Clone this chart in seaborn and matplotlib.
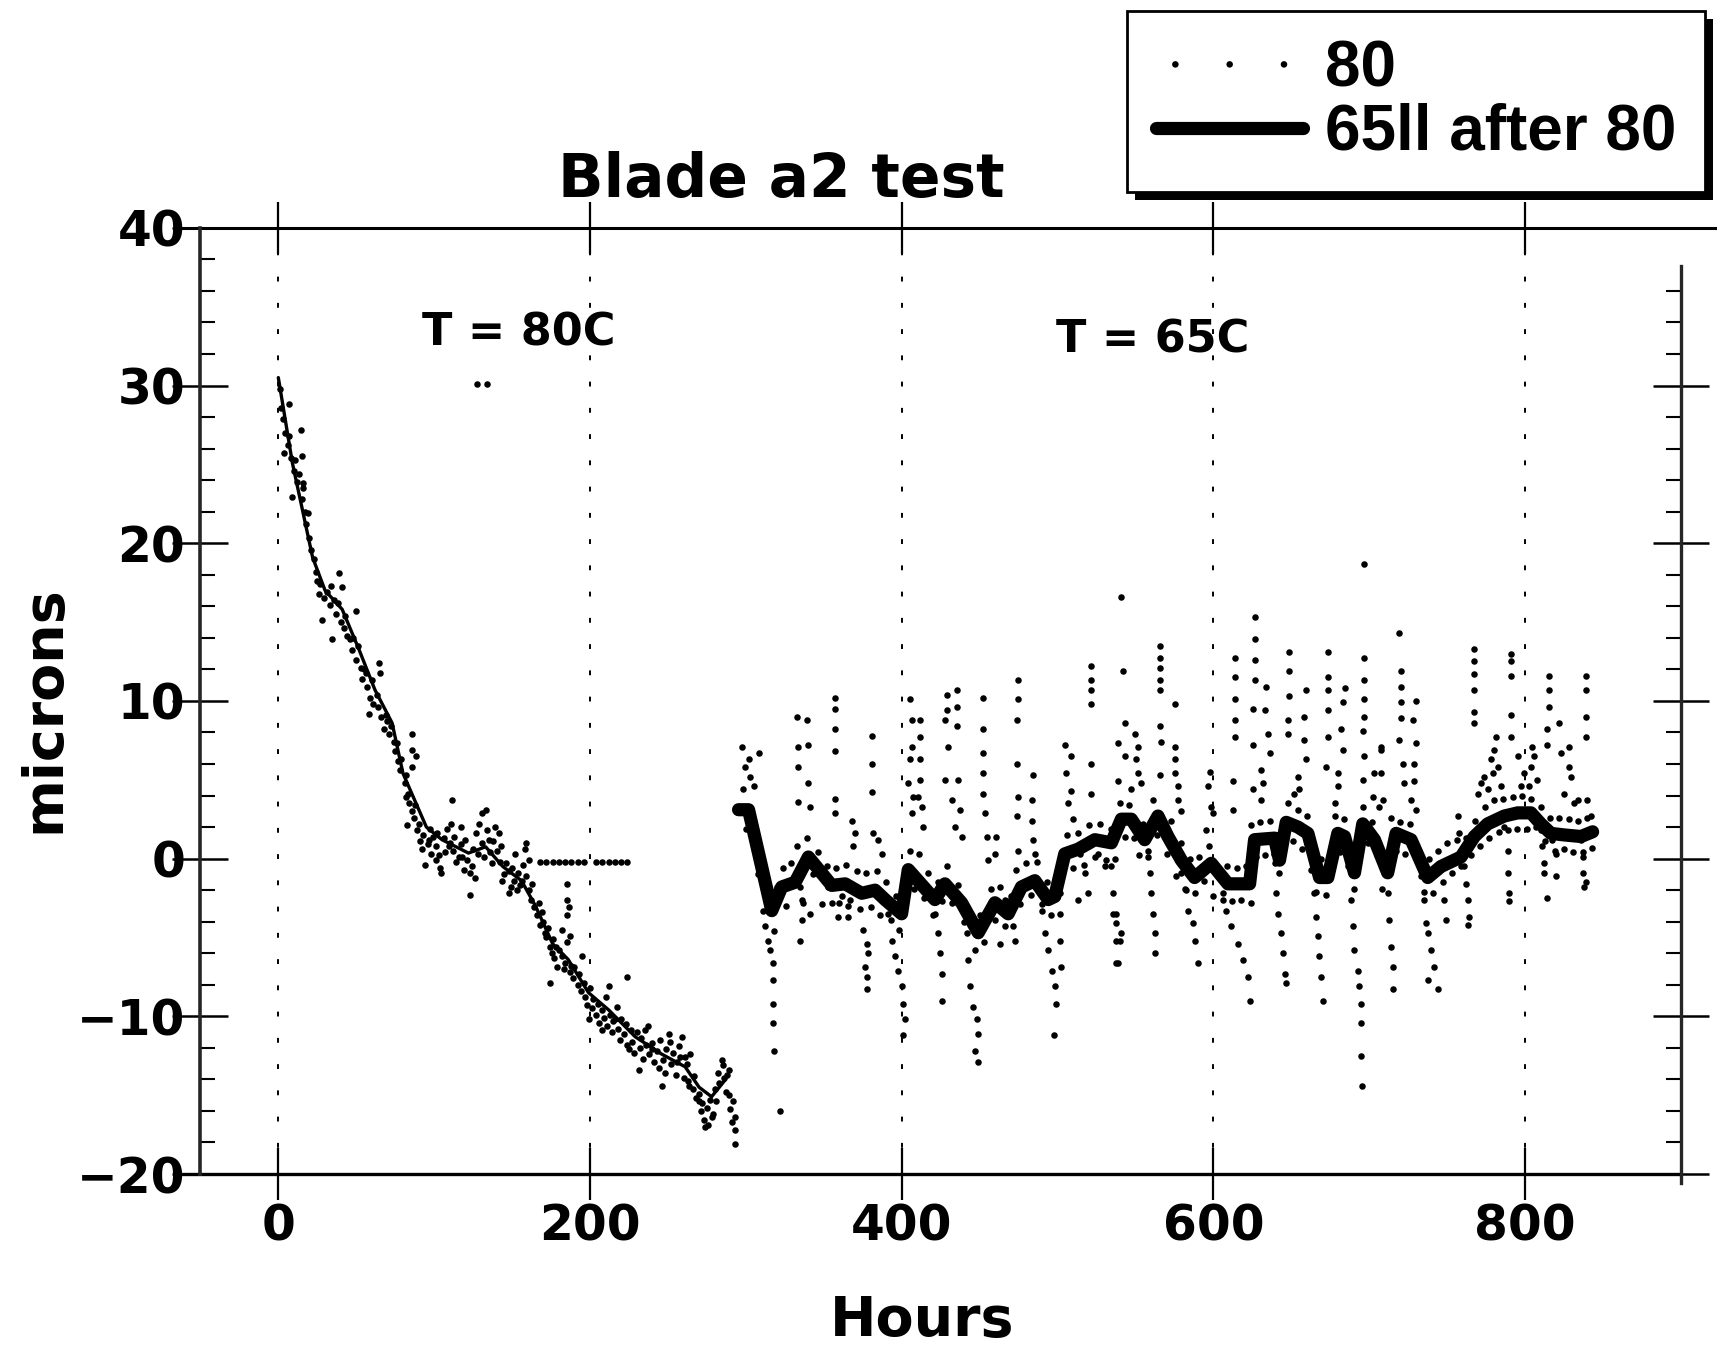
import numpy as np
import pandas as pd
import matplotlib
matplotlib.use("Agg")
import matplotlib.pyplot as plt
import seaborn as sns
from matplotlib.patches import Rectangle
from matplotlib.lines import Line2D
from matplotlib.ticker import MultipleLocator

sns.set_style("white")
plt.rcParams["font.family"] = ["DejaVu Sans"]
plt.rcParams["font.weight"] = "bold"
plt.rcParams.update({"text.color": "black", "axes.labelcolor": "black",
                     "xtick.color": "black", "ytick.color": "black"})

# ---------------- data ----------------
x_ticks = [0, 200, 400, 600, 800]
x_tick_labels = ["0", "200", "400", "600", "800"]
y_ticks = [-20, -10, 0, 10, 20, 30, 40]
y_tick_labels = ["-20", "-10", "0", "10", "20", "30", "40"]

# thin smoothing line through the T = 80C part
fit80_hours = [0, 9, 22, 30, 41, 52, 62, 73, 80, 95, 105, 122, 133, 144, 156, 165,
               176, 186, 199, 212, 229, 246, 261, 270, 278, 287]
fit80_microns = [30.5, 25.1, 19.1, 17.0, 15.8, 13.2, 10.7, 8.6, 5.4, 2.0, 1.2, 0.35,
                 0.75, -0.5, -1.4, -3.0, -5.4, -6.4, -8.5, -9.6, -11.3, -12.4, -13.2,
                 -14.5, -15.1, -14.0]

# thick line "65ll after 80"
fit65_hours = [295.3, 301.7, 316.6, 323.0, 331.6, 340.1, 355.1, 363.7, 374.3, 382.9,
               389.3, 399.9, 404.2, 421.3, 427.7, 438.4, 449.1, 459.8, 468.3, 476.8,
               485.4, 494.0, 498.2, 504.6, 513.2, 523.9, 534.5, 540.9, 547.3, 555.9,
               564.4, 570.8, 579.4, 587.9, 598.6, 609.3, 623.2, 626.4, 639.2, 642.4,
               646.7, 654.2, 660.6, 668.1, 673.4, 679.8, 684.1, 690.5, 695.8, 703.3,
               711.8, 717.2, 726.8, 737.5, 746.0, 758.8, 767.4, 775.9, 786.6, 795.2,
               803.7, 810.1, 816.5, 825.1, 835.8, 843.3]
fit65_microns = [3.1, 3.1, -3.3, -1.8, -1.5, 0.1, -1.7, -1.6, -2.2, -2.0,
                 -2.6, -3.5, -0.7, -2.6, -1.6, -2.8, -4.7, -2.8, -3.5, -1.8,
                 -1.4, -2.6, -2.4, 0.3, 0.6, 1.2, 1.0, 2.5, 2.5, 1.2,
                 2.7, 1.4, -0.1, -1.2, -0.3, -1.6, -1.6, 1.2, 1.3, -0.1,
                 2.3, 2.0, 1.6, -1.2, -1.2, 1.6, 1.4, -0.9, 2.2, 1.2,
                 -0.9, 1.6, 1.2, -1.2, -0.5, 0.1, 1.4, 2.2, 2.7, 2.9,
                 2.9, 2.2, 1.6, 1.5, 1.4, 1.7]

# measured points, T = 80C part
dots80 = [
    (1, 29.8), (2, 28.6), (3, 27.9), (4, 27.0), (6, 26.2), (7, 26.8), (8, 25.4), (10, 24.6),
    (11, 25.3), (12, 23.9), (13, 24.4), (15, 22.8), (16, 23.5), (17, 22.0), (18, 21.2), (19, 21.9),
    (20, 20.3), (21, 19.6), (23, 19.0), (24, 18.2), (25, 17.6), (26, 16.8), (27, 17.4), (29, 16.5),
    (31, 16.9), (33, 16.1), (34, 17.3), (36, 16.4), (37, 15.5), (38, 16.2), (40, 15.0), (42, 14.6),
    (43, 15.4), (44, 14.1), (46, 13.9), (47, 13.2), (48, 14.0), (50, 12.6), (51, 13.5), (53, 12.1),
    (54, 11.4), (55, 12.0), (56, 11.8), (57, 10.9), (59, 10.2), (60, 11.3), (61, 9.8), (63, 10.4),
    (64, 9.6), (65, 11.8), (66, 9.0), (68, 8.2), (69, 9.1), (70, 8.7), (71, 7.9), (72, 8.4),
    (74, 7.4), (75, 6.8), (76, 7.3), (77, 6.2), (78, 5.6), (79, 6.3), (81, 4.8), (82, 5.3),
    (83, 4.1), (84, 3.5), (86, 3.0), (87, 2.6), (88, 3.4), (89, 1.8), (90, 2.2), (91, 1.1),
    (92, 0.6), (93, 1.5), (94, -0.4), (96, 0.9), (97, 1.9), (98, 0.3), (99, 1.4), (101, 0.8),
    (102, 1.6), (103, 0.2), (104, -0.6), (106, 1.3), (107, 0.4), (108, 1.9), (110, 1.0), (112, 0.5),
    (113, 1.4), (114, -0.2), (117, 0.9), (118, 0.1), (119, -0.7), (120, 1.2), (121, -0.1), (124, -0.5),
    (125, 0.6), (126, -1.2), (127, 1.6), (128, 0.3), (129, 2.2), (131, 1.0), (132, 0.1), (134, 1.8),
    (136, 0.4), (137, -0.3), (138, 1.1), (139, 2.0), (140, 0.5), (142, -0.2), (143, 0.8), (145, -1.0),
    (146, -0.3), (148, -0.8), (149, -1.8), (150, -0.6), (151, -1.4), (152, 0.3), (153, -2.0), (154, -0.9),
    (155, -1.7), (157, -0.4), (158, 0.6), (159, -1.1), (161, -2.0), (162, -2.6), (163, -1.6), (164, -3.1),
    (166, -3.6), (167, -2.8), (168, -4.2), (169, -3.4), (170, -4.0), (172, -5.0), (173, -4.4), (174, -5.6),
    (176, -5.1), (177, -6.3), (178, -5.6), (179, -6.9), (180, -5.8), (182, -6.2), (183, -7.0), (184, -6.6),
    (185, -5.3), (187, -7.2), (188, -6.8), (189, -7.6), (190, -6.9), (192, -8.0), (193, -7.3), (194, -8.4),
    (196, -7.9), (197, -8.8), (198, -9.3), (200, -8.2), (201, -9.5), (202, -8.9), (204, -9.9), (205, -9.2),
    (206, -10.4), (208, -9.6), (209, -10.1), (210, -8.8), (211, -10.6), (213, -9.9), (214, -11.0), (215, -10.3),
    (217, -9.4), (218, -10.8), (219, -11.5), (220, -10.2), (222, -11.1), (223, -10.5), (224, -11.8), (226, -10.9),
    (227, -11.6), (228, -12.3), (230, -11.0), (232, -12.0), (233, -11.4), (234, -12.7), (236, -11.8), (237, -10.6),
    (238, -12.4), (240, -11.7), (241, -12.9), (243, -12.2), (244, -13.3), (245, -11.5), (247, -12.8), (248, -13.6),
    (249, -12.1), (251, -11.6), (252, -13.0), (253, -12.3), (255, -13.7), (256, -12.9), (257, -11.9), (258, -12.6),
    (260, -13.9), (262, -13.0), (263, -14.1), (264, -12.4), (266, -14.6), (267, -13.8), (268, -15.2), (270, -14.9),
    (271, -16.0), (272, -15.5), (273, -16.6), (275, -15.8), (276, -16.9), (277, -15.3), (279, -16.2), (280, -14.6),
    (281, -15.4), (282, -13.6), (283, -14.2), (285, -13.1), (286, -13.9), (287, -14.8), (288, -13.7), (289, -15.0),
    (290, -15.9), (291, -16.7), (292, -15.4), (293, -17.2),
    (6.9, 28.8), (14.4, 27.2), (3.7, 25.7), (9.0, 22.9), (14.9, 25.5), (16.0, 23.8), (39.0, 18.1), (41.1, 17.2),
    (28.3, 15.1), (34.7, 13.9), (49.6, 15.7), (64.6, 12.4), (58.2, 9.2), (85.9, 7.9), (88.1, 6.5), (81.7, 3.9),
    (111.6, 3.7), (133.0, 3.1), (110.5, 2.2), (85.9, 6.9), (85.9, 5.8), (82.8, 2.1), (116.9, 2.0), (96.6, 1.2),
    (100.9, -0.1), (104.1, -0.9), (109.4, 0.8), (115.8, 0.1), (123.3, -0.9), (123.3, -2.3), (130.8, 2.9),
    (135.1, 1.2), (141.5, 1.6), (143.6, -1.4), (147.9, -2.2), (158.6, 1.0), (160.8, -0.1), (156.5, -1.4),
    (171.4, -4.7), (175.7, -6.0), (174.6, -7.9), (182.0, -4.5), (186.3, -3.1), (187.4, -4.9), (194.9, -6.2),
    (199.2, -10.2), (207.7, -10.9), (212.0, -8.1), (223.7, -7.5), (216.3, -10.2), (224.8, -12.1),
    (231.2, -13.4), (235.5, -10.9), (239.8, -12.1), (246.2, -14.4), (250.4, -11.1), (259.0, -11.3),
    (261.1, -12.6), (263.3, -14.4), (269.7, -15.4), (274.0, -17.0), (278.2, -16.4), (284.6, -12.8),
    (288.9, -13.4), (293.2, -16.4), (293.2, -18.1), (127.6, 30.1), (134.0, 30.1),
    (168, -0.2), (172, -0.2), (176, -0.2), (180, -0.2), (184, -0.2), (188, -0.2), (192, -0.2),
    (196, -0.2), (204, -0.2), (208, -0.2), (212, -0.2), (216, -0.2), (220, -0.2), (224, -0.2),
    (185, -1.6), (185, -2.6), (185, -3.6),
]

# measured points, T = 65C part
dots65 = [
    (297.4, 7.1), (299.6, 5.8), (302.8, 5.2), (304.9, 4.6), (308.1, 6.7), (301.7, 6.3),
    (311.3, -3.3), (312.4, -4.3), (314.5, -5.2), (315.6, -5.8), (317.7, -6.6), (317.7, -7.7),
    (317.7, -9.2), (317.7, -10.4), (318.0, -12.2), (322.0, -16.0),
    (332.7, 9.0), (339.1, 8.8), (333.7, 7.1), (340.1, 7.2), (333.7, 5.8), (333.7, 3.6), (340.1, 4.8),
    (341.2, 3.3), (334.8, -1.8), (336.9, -2.8), (335.9, -3.9), (334.8, -5.2), (341.2, -3.5),
    (357.2, 10.2), (357.2, 9.5), (357.2, 8.2), (357.2, 6.8), (357.2, 3.8), (357.2, 2.9),
    (353.0, -1.8), (355.1, -2.8), (359.4, -3.7), (361.5, -2.4),
    (367.9, 2.4), (370.0, 1.6), (369.0, 0.8), (365.8, -1.8), (365.8, -3.0), (365.8, -3.7),
    (380.7, 7.8), (380.7, 6.0), (380.7, 4.2), (381.8, 1.6), (385.0, 1.2), (387.2, 0.3),
    (375.4, -4.5), (377.5, -5.4), (378.6, -6.0), (376.5, -6.9), (377.5, -7.5), (377.5, -8.3),
    (391.4, -3.5), (393.6, -5.2), (395.7, -6.2), (397.8, -7.1), (400.0, -8.1), (401.0, -9.2),
    (402.1, -10.2), (400.7, -11.2),
    (405.3, 10.1), (406.4, 8.8), (406.4, 7.1), (405.3, 6.3), (404.2, 4.8), (407.4, 3.9), (406.4, 2.9),
    (411.7, 8.8), (411.7, 7.7), (411.7, 6.3), (411.7, 5.0), (410.6, 3.9), (412.8, 3.3), (413.8, 2.0),
    (418.1, -2.2), (421.3, -3.5), (423.5, -4.7), (424.5, -6.0), (425.6, -7.3), (425.6, -9.0),
    (428.8, 10.4), (435.2, 10.7), (428.8, 9.4), (435.2, 9.6), (427.7, 8.8), (435.2, 8.4), (429.9, 7.1),
    (427.7, 5.0), (436.3, 5.0), (432.0, 3.7), (437.3, 3.1), (434.1, 2.0), (438.4, 1.4),
    (441.6, -3.3), (441.6, -4.7), (442.7, -6.4), (443.8, -8.1), (445.9, -9.4), (448.0, -10.2),
    (449.1, -11.1), (447.0, -12.2), (449.0, -12.9),
    (452.3, 10.2), (452.3, 8.2), (452.3, 6.7), (452.3, 5.4), (452.3, 4.1), (453.4, 2.9), (454.4, 1.4),
    (455.5, -0.1), (460.8, 1.4), (459.8, 0.3),
    (466.2, -2.6), (468.3, -3.3), (471.5, -4.3), (472.6, -5.2), (463.0, -5.4),
    (474.7, 11.3), (474.7, 10.1), (473.7, 8.8), (473.7, 6.0), (474.7, 3.9), (473.7, 2.7), (474.7, 0.5),
    (484.3, 5.3), (483.3, 3.7), (483.3, 2.4), (484.3, 1.2), (485.4, 0.3),
    (489.7, -3.3), (491.8, -4.7), (494.0, -5.8), (496.1, -7.1), (498.2, -8.1), (499.3, -9.2), (498.0, -11.2),
    (501.4, -2.2), (501.4, -3.5), (501.4, -5.2), (502.5, -6.9),
    (504.6, 7.2), (508.9, 6.5), (505.7, 5.4), (508.9, 4.3), (506.8, 3.5), (510.0, 2.5),
    (521.7, 12.2), (521.7, 11.3), (521.7, 10.7), (521.7, 9.8), (521.7, 6.0), (521.7, 4.1),
    (514.2, 0.3), (517.5, -0.9), (519.6, -2.2), (513.2, -2.6), (526.0, 0.3), (530.3, -0.5),
    (537.7, -3.5), (537.7, -5.2), (537.7, -6.6),
    (540.4, 16.6), (542.0, 11.9), (543.1, 8.6), (538.8, 7.3), (543.1, 6.5), (538.8, 4.9), (549.5, 7.9),
    (551.6, 7.1), (550.6, 6.3), (551.6, 5.4), (547.4, 4.4), (553.8, 4.8),
    (565.5, 13.5), (565.5, 12.7), (565.5, 12.1), (565.5, 11.3), (565.5, 10.7), (575.1, 9.8), (565.5, 8.4),
    (566.6, 7.4), (565.5, 5.3), (575.1, 7.1), (575.1, 6.3), (575.1, 5.4), (577.3, 4.6), (577.3, 3.7),
    (579.4, 3.0),
    (534.5, -0.5), (535.6, -2.2), (535.6, -3.5), (537.7, -4.1), (539.9, -5.2), (538.8, -6.6), (541.0, -4.7),
    (558.0, 0.5), (559.1, -0.9), (560.2, -2.2), (561.2, -3.5), (562.3, -4.7), (562.3, -6.0),
    (579.4, -0.9), (582.6, -2.0), (583.7, -3.3), (586.9, -4.1), (588.0, -5.2), (590.1, -6.6), (591.2, -1.1),
    (597.6, 5.5), (596.5, 4.6), (598.6, 3.3), (599.7, 2.9), (595.4, 1.8),
    (602.9, -1.1), (606.1, -2.2), (608.2, -3.3), (611.4, -4.3), (615.7, -5.4), (618.9, -6.4),
    (622.1, -7.5), (623.2, -9.0), (624.3, -2.8),
    (613.6, 12.7), (613.6, 11.5), (613.6, 10.1), (613.6, 8.8), (613.6, 7.7), (612.5, 4.9), (612.5, 3.1),
    (626.4, 15.3), (626.4, 13.9), (626.4, 12.6), (626.4, 11.3), (625.3, 9.5), (625.3, 7.2), (633.9, 10.9),
    (632.8, 9.4), (634.9, 7.9), (636.0, 6.7), (630.7, 5.6), (631.7, 4.8), (630.7, 3.7), (625.3, 4.4),
    (639.2, -0.3), (640.3, -2.2), (641.3, -3.5), (643.5, -4.7), (644.6, -6.0), (645.6, -7.3), (646.7, -7.9),
    (648.8, 13.1), (648.8, 11.9), (648.8, 10.3), (647.8, 8.8), (647.8, 7.9), (659.5, 10.7), (658.4, 9.0),
    (658.4, 7.5), (659.5, 6.3), (654.2, 5.2), (655.2, 4.4), (652.0, 4.1),
    (662.7, -0.7), (664.8, -2.2), (665.9, -3.7), (667.0, -4.9), (668.0, -6.2), (669.1, -7.5), (670.2, -9.0),
    (673.4, 13.1), (673.4, 11.5), (673.4, 10.7), (673.4, 9.4), (673.4, 7.7), (672.3, 5.8), (684.1, 10.8),
    (683.0, 9.9), (681.9, 8.2), (683.0, 6.9), (679.8, 5.4), (679.8, 4.6), (677.7, 3.5),
    (686.2, -0.5), (688.3, -2.6), (689.4, -4.3), (690.5, -5.8), (692.6, -7.1), (693.7, -8.1), (694.8, -9.2),
    (694.8, -10.4), (694.8, -12.5), (695.0, -14.4),
    (696.8, 18.7), (696.9, 12.7), (696.9, 11.3), (696.9, 10.1), (696.9, 9.0), (695.8, 8.1), (696.9, 6.5),
    (695.8, 5.0), (703.3, 5.4), (707.6, 6.9), (702.3, 3.9), (706.5, 3.3),
    (710.8, -0.5), (711.8, -2.2), (712.9, -3.9), (714.0, -5.6), (715.1, -6.9), (715.1, -8.3),
    (707.5, 7.1), (707.5, 5.4), (708.6, 3.7),
    (719.3, 14.3), (720.4, 11.9), (720.4, 10.9), (720.4, 9.9), (720.4, 8.9), (719.3, 7.5), (721.4, 6.0),
    (722.5, 4.8), (730.0, 10.0), (727.8, 8.8), (730.0, 7.3), (728.9, 6.0), (728.9, 4.9), (726.8, 3.7),
    (730.0, 3.1),
    (733.2, -1.1), (735.3, -2.6), (736.4, -4.1), (737.4, -4.7), (739.6, -5.8), (741.7, -6.9), (737.4, -7.7),
    (743.9, -8.3), (748.1, -2.6), (749.2, -3.9),
    (756.7, 2.7), (757.7, 1.6), (754.5, -0.1), (760.9, -0.5), (762.0, -1.6), (763.1, -2.6), (764.1, -3.7),
    (763.1, -4.2),
    (767.3, 13.3), (767.3, 12.5), (767.3, 11.7), (767.3, 10.7), (767.3, 9.3), (767.3, 8.6),
    (769.5, 4.1), (771.6, 4.8), (773.8, 5.2), (778.0, 6.3), (780.2, 6.9), (781.2, 7.7), (779.1, 5.4),
    (782.3, 5.8), (775.9, 4.4), (784.4, 4.6),
    (786.6, 2.0), (788.7, 0.5), (788.7, -0.9), (789.8, -2.2), (789.8, -2.7),
    (790.8, 13.0), (790.8, 12.5), (790.8, 11.6), (790.8, 9.1), (790.8, 7.7),
    (795.1, 6.5), (799.4, 5.4), (803.7, 5.8), (797.2, 4.6), (802.6, 4.6), (805.8, 6.5), (804.7, 7.1),
    (807.9, 5.0),
    (810.0, 1.8), (811.1, 0.8), (812.2, -0.3), (812.2, -0.9), (814.3, -2.5), (817.5, 1.2), (819.7, 0.3),
    (819.7, -1.1),
    (815.4, 11.6), (815.4, 10.7), (815.4, 9.6), (814.3, 8.2), (814.3, 7.2),
    (821.8, 8.6), (822.9, 6.7), (828.2, 7.1), (828.2, 5.8), (829.3, 5.2), (825.0, 4.1), (833.6, 3.7),
    (831.4, 3.5), (840.0, 3.7),
    (835.7, 1.2), (836.8, 0.1), (836.8, -0.9), (837.8, -1.8), (838.9, -1.5),
    (838.9, 11.6), (838.9, 10.7), (838.9, 9.0), (838.9, 7.7), (842.1, 2.7),
    (298, 4.4), (300, 1.9), (305, 0.9), (308, -1.0), (312, -2.0), (318, -4.6), (320, -1.8), (324, -0.6),
    (326, -3.0), (329, -0.3), (333, 0.8), (336, -2.6), (339, 1.3), (343, -1.0), (346, 0.4), (349, -2.9),
    (352, -0.5), (358, -0.6), (360, -2.8), (364, -0.4), (367, -2.6), (371, -0.8), (373, -3.2), (377, -0.9),
    (380, -3.1), (384, -0.8), (386, -3.6), (390, -1.5), (393, -3.9), (396, -2.4), (398, -4.5), (402, -2.2),
    (405, 0.5), (408, -1.9), (411, 0.3), (414, -2.5), (417, -0.9), (420, -3.6), (423, -1.5), (426, -2.7),
    (429, -0.5), (432, -2.8), (436, -1.7), (440, -4.0), (444, -3.5), (447, -5.8), (450, -3.6), (453, -5.3),
    (457, -1.9), (460, -3.9), (463, -1.8), (466, -4.3), (470, -2.4), (473, -0.7), (476, -2.9), (480, -0.3),
    (483, -2.3), (487, -0.2), (490, -2.9), (493, -1.5), (496, -3.6), (500, -1.2), (503, -0.8), (506, 1.5),
    (510, -0.6), (513, 1.6), (517, -0.4), (520, 2.1), (524, 0.1), (527, 2.2), (531, -0.1), (534, 1.9),
    (537, 0.0), (540, 3.5), (543, 1.4), (546, 3.4), (549, 1.3), (552, 0.2), (555, 2.2), (558, 0.1),
    (561, 3.7), (564, 1.5), (567, 2.5), (570, 0.3), (573, 2.4), (576, -1.1), (579, 1.0), (582, -1.9),
    (585, 0.0), (588, -2.2), (591, 0.1), (594, -1.4), (597, 0.8), (600, -2.4), (603, -0.6), (606, -2.6),
    (609, -0.5), (612, -2.7), (615, -0.6), (618, -2.6), (621, -0.5), (624, 2.1), (627, 0.1), (630, 2.3),
    (633, 0.2), (636, 2.4), (639, 0.3), (642, -0.9), (645, 1.1), (648, 3.5), (651, 1.1), (654, 3.1),
    (657, 0.6), (660, 2.7), (663, 0.5), (666, -2.1), (669, 0.0), (672, -2.3), (675, 0.2), (678, 2.7),
    (681, 0.4), (684, 2.5), (687, 0.1), (690, -1.9), (693, 0.2), (696, 3.3), (699, 1.0), (702, 2.3),
    (705, 0.2), (708, -1.9), (711, 0.1), (714, 2.6), (717, 0.5), (720, 2.3), (723, 0.3), (726, 2.2),
    (729, 0.4), (732, -0.3), (735, -2.1), (738, 0.0), (741, -2.2), (744, 0.5), (747, -1.5), (750, 1.0),
    (753, -0.9), (756, 1.2), (759, -0.5), (762, 1.3), (765, 0.2), (768, 2.4), (771, 0.8), (774, 3.3),
    (777, 1.3), (780, 3.7), (783, 1.7), (786, 3.8), (789, 1.8), (792, 3.9), (795, 1.9), (798, 4.0),
    (801, 1.9), (804, 3.8), (807, 2.0), (810, 3.3), (813, 1.1), (816, 2.6), (819, 0.5), (822, 2.6),
    (825, 0.6), (828, 2.5), (831, 0.4), (834, 2.4), (837, 0.4), (840, 2.6), (843, 0.7),
]

series_labels = ["80", "65ll after 80"]
title_text = "Blade a2 test"
region_labels = [("T = 80C", 154, 33.3), ("T = 65C", 561, 32.9)]

# ---------------- figure ----------------
W, H = 1717, 1348
fig = plt.figure(figsize=(W / 100, H / 100), dpi=100)
ax_l, ax_b = 200.4 / W, 1 - 1174 / H
ax_w, ax_h = (1681 - 200.4) / W, (1174 - 227.8) / H
ax = fig.add_axes([ax_l, ax_b, ax_w, ax_h])

dots_df = pd.DataFrame(dots80 + dots65, columns=["hours", "microns"])
fit80_df = pd.DataFrame({"hours": fit80_hours, "microns": fit80_microns})
fit65_df = pd.DataFrame({"hours": fit65_hours, "microns": fit65_microns})

sns.scatterplot(data=dots_df, x="hours", y="microns", s=22, color="black",
                linewidth=0, marker="o", ax=ax, label=series_labels[0], zorder=3)
sns.lineplot(data=fit80_df, x="hours", y="microns", sort=False, estimator=None,
             color="black", lw=2.4, ax=ax, label="_nolegend_", zorder=4)
sns.lineplot(data=fit65_df, x="hours", y="microns", sort=False, estimator=None,
             color="black", lw=9.5, ax=ax, label=series_labels[1], zorder=4,
             solid_joinstyle="round", solid_capstyle="round")

ax.set_xlim(-50, 900)
ax.set_ylim(-20, 40)
ax.set_xlabel("")
ax.set_ylabel("")
if ax.get_legend() is not None:
    ax.get_legend().remove()

# spines / frame
for s in ["top", "bottom"]:
    ax.spines[s].set_visible(False)
ax.spines["left"].set_linewidth(2.6)
ax.spines["right"].set_linewidth(2.4)
ax.spines["right"].set_bounds(-20.6, 37.6)
ax.add_line(Line2D([-0.017, 1.024], [1, 1], transform=ax.transAxes, color="black",
                   lw=2.2, clip_on=False))
ax.add_line(Line2D([-0.017, 1.0], [0, 0], transform=ax.transAxes, color="black",
                   lw=2.4, clip_on=False))

# ticks
ax.set_xticks(x_ticks)
ax.set_xticklabels(x_tick_labels)
ax.set_yticks(y_ticks)
ax.set_yticklabels([t.replace("-", "\u2212") for t in y_tick_labels])
ax.yaxis.set_minor_locator(MultipleLocator(2))
ax.tick_params(axis="x", which="major", direction="inout", length=37, width=1.6,
               top=True, bottom=True, labelsize=35, pad=2, color="black")
ax.tick_params(axis="y", which="major", direction="inout", length=40, width=1.8,
               left=True, right=True, labelsize=35, pad=-9, color="black")
ax.tick_params(axis="y", which="minor", direction="in", length=11, width=1.5,
               left=True, right=True, color="black")
for lab in ax.get_xticklabels() + ax.get_yticklabels():
    lab.set_fontweight("bold")
# no right-hand ticks above the right spine end
for t in ax.yaxis.get_major_ticks():
    if t.get_loc() > 37.6:
        t.tick2line.set_visible(False)
for t in ax.yaxis.get_minor_ticks():
    if t.get_loc() > 37.6 or t.get_loc() in y_ticks:
        t.tick2line.set_visible(False)
        if t.get_loc() in y_ticks:
            t.tick1line.set_visible(False)

# vertical dotted grid
ax.xaxis.grid(True, linestyle=(0, (2.5, 11)), color="black", lw=1.4)
ax.yaxis.grid(False)

# texts
for txt, xh, ym in region_labels:
    ax.text(xh, ym, txt, ha="center", va="center", fontsize=32, fontweight="bold")
fig.text(0.455, 1 - 197 / H, title_text, ha="center", va="baseline",
         fontsize=43, fontweight="bold")
fig.text(922 / W, 0.009, "Hours", ha="center", va="baseline", fontsize=40,
         fontweight="bold")
fig.text(44 / W, 1 - 709 / H, "microns", rotation=90, ha="center", va="center",
         fontsize=40, fontweight="bold")

# legend with black drop shadow
handles, labels = ax.get_legend_handles_labels()
keep = [(h, l) for h, l in zip(handles, labels) if l in series_labels]
leg = fig.legend([h for h, _ in keep], [l for _, l in keep], loc="upper right",
                 bbox_to_anchor=(1705 / W, 1 - 11 / H), bbox_transform=fig.transFigure,
                 borderaxespad=0, frameon=True, fancybox=False,
                 prop={"family": "Liberation Sans", "weight": "bold", "size": 46},
                 framealpha=1, edgecolor="black", handlelength=2.3, handletextpad=0.34,
                 borderpad=0.45, labelspacing=0.05, scatterpoints=3,
                 scatteryoffsets=[0.5, 0.5, 0.5], markerscale=1.0)
leg.get_frame().set_linewidth(2.0)
fig.canvas.draw()
bb = leg.get_frame().get_window_extent(fig.canvas.get_renderer())
bbf = bb.transformed(fig.transFigure.inverted())
dx, dy = 8 / W, 8 / H
fig.add_artist(Rectangle((bbf.x0 + dx, bbf.y0 - dy), bbf.width, bbf.height,
                         transform=fig.transFigure, facecolor="black",
                         edgecolor="none", zorder=-1))

fig.savefig("out.png", dpi=100)
